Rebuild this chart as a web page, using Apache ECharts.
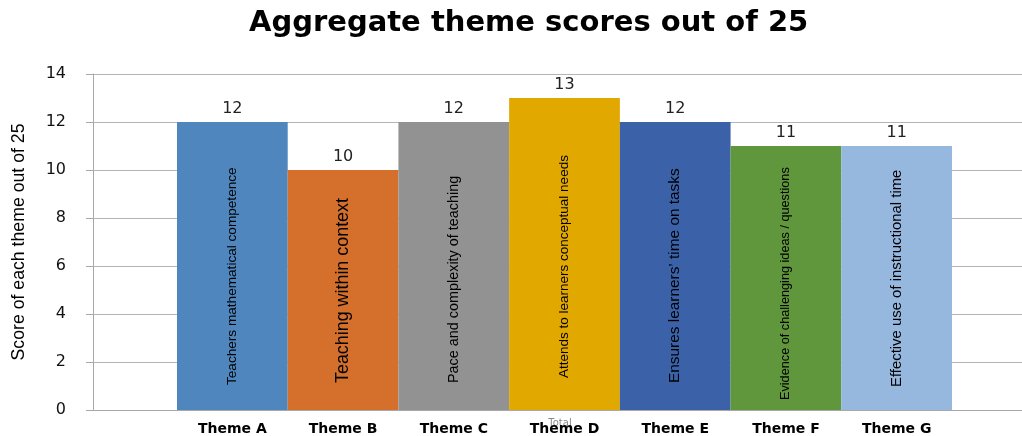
<!DOCTYPE html>
<html>
<head>
<meta charset="utf-8">
<script src="https://cdn.jsdelivr.net/npm/echarts@6/dist/echarts.min.js"></script>
<style>
html,body{margin:0;padding:0;background:#fff;}
#chart{width:1022px;height:436px;}
</style>
</head>
<body>
<div id="chart"></div>
<script>
// ---- data ----
const themes = ['Theme A','Theme B','Theme C','Theme D','Theme E','Theme F','Theme G'];
const descriptions = [
  'Teachers mathematical competence',
  'Teaching within context',
  'Pace and complexity of teaching',
  'Attends to learners conceptual needs',
  'Ensures learners\u2019 time on tasks',
  'Evidence of challenging ideas / questions',
  'Effective use of instructional time'
];
const scores = [12, 10, 12, 13, 12, 11, 11];
const groupCategory = ['Total'];
const yTicks = [0, 2, 4, 6, 8, 10, 12, 14];

// ---- styles ----
const colors = ['#4f86bd','#d46f2c','#929292','#e1a800','#3b62a9','#60973d','#96b7de'];
const innerFont = [13.6, 17.9, 14.4, 13.5, 15.4, 12.7, 14.9];
const innerDist = [25, 27, 27, 32, 27, 10, 23];

const chart = echarts.init(document.getElementById('chart'));
const sans = '"Liberation Sans", Arial, sans-serif';

chart.setOption({
  animation: false,
  backgroundColor: '#fff',
  title: {
    text: 'Aggregate theme scores out of 25',
    left: 244,
    top: 4,
    textStyle: { fontFamily: '"DejaVu Sans", sans-serif', fontWeight: 'bold', fontSize: 29, color: '#000' }
  },
  grid: [
    { left: 93, right: -5, top: 74, bottom: 26, outerBoundsMode: 'none', containLabel: false },
    { left: 177, right: 70, top: 74, bottom: 26, outerBoundsMode: 'none', containLabel: false }
  ],
  xAxis: [
    {
      type: 'category', gridIndex: 0, data: groupCategory,
      axisLine: { lineStyle: { color: '#a8a8a8', width: 1 } },
      axisTick: { show: false },
      axisLabel: { fontFamily: 'DejaVu Sans, sans-serif', fontSize: 10, color: '#8a8a8a', margin: 8 }
    },
    {
      type: 'category', gridIndex: 1, data: themes,
      axisLine: { show: false }, axisTick: { show: false },
      axisLabel: { fontFamily: 'DejaVu Sans, sans-serif', fontWeight: 'bold', fontSize: 14, color: '#000', margin: 12 }
    }
  ],
  yAxis: [
    {
      type: 'value', gridIndex: 0, min: yTicks[0], max: yTicks[yTicks.length-1], interval: 2,
      name: 'Score of each theme out of 25', nameLocation: 'middle', nameRotate: 90, nameGap: 65,
      nameTextStyle: { fontFamily: sans, fontSize: 17.7, color: '#000' },
      axisLine: { show: true, lineStyle: { color: '#a8a8a8' } },
      axisTick: { show: true, length: 7, lineStyle: { color: '#a8a8a8' } },
      axisLabel: { fontFamily: 'DejaVu Sans, sans-serif', fontSize: 16, color: '#111', margin: 27 },
      splitLine: { lineStyle: { color: '#b5b5b5', width: 1 } }
    },
    {
      type: 'value', gridIndex: 1, min: yTicks[0], max: yTicks[yTicks.length-1], interval: 2,
      show: false, splitLine: { show: false }
    }
  ],
  series: [
    {
      type: 'bar', xAxisIndex: 1, yAxisIndex: 1,
      barCategoryGap: '0%', barGap: '-100%',
      data: scores.map((v, i) => ({ value: v, itemStyle: { color: colors[i] } })),
      label: {
        show: true, position: 'top', distance: 5,
        fontFamily: 'DejaVu Sans, sans-serif', fontSize: 16, color: '#222'
      }
    },
    {
      type: 'bar', xAxisIndex: 1, yAxisIndex: 1,
      barCategoryGap: '0%', barGap: '-100%',
      itemStyle: { color: 'rgba(0,0,0,0)' },
      data: scores.map((v, i) => ({
        value: v,
        label: { fontSize: innerFont[i], distance: innerDist[i] }
      })),
      label: {
        show: true, position: 'insideBottom', rotate: 90,
        align: 'left', verticalAlign: 'middle',
        fontFamily: sans, color: '#000',
        formatter: p => descriptions[p.dataIndex]
      }
    }
  ]
});
</script>
</body>
</html>
